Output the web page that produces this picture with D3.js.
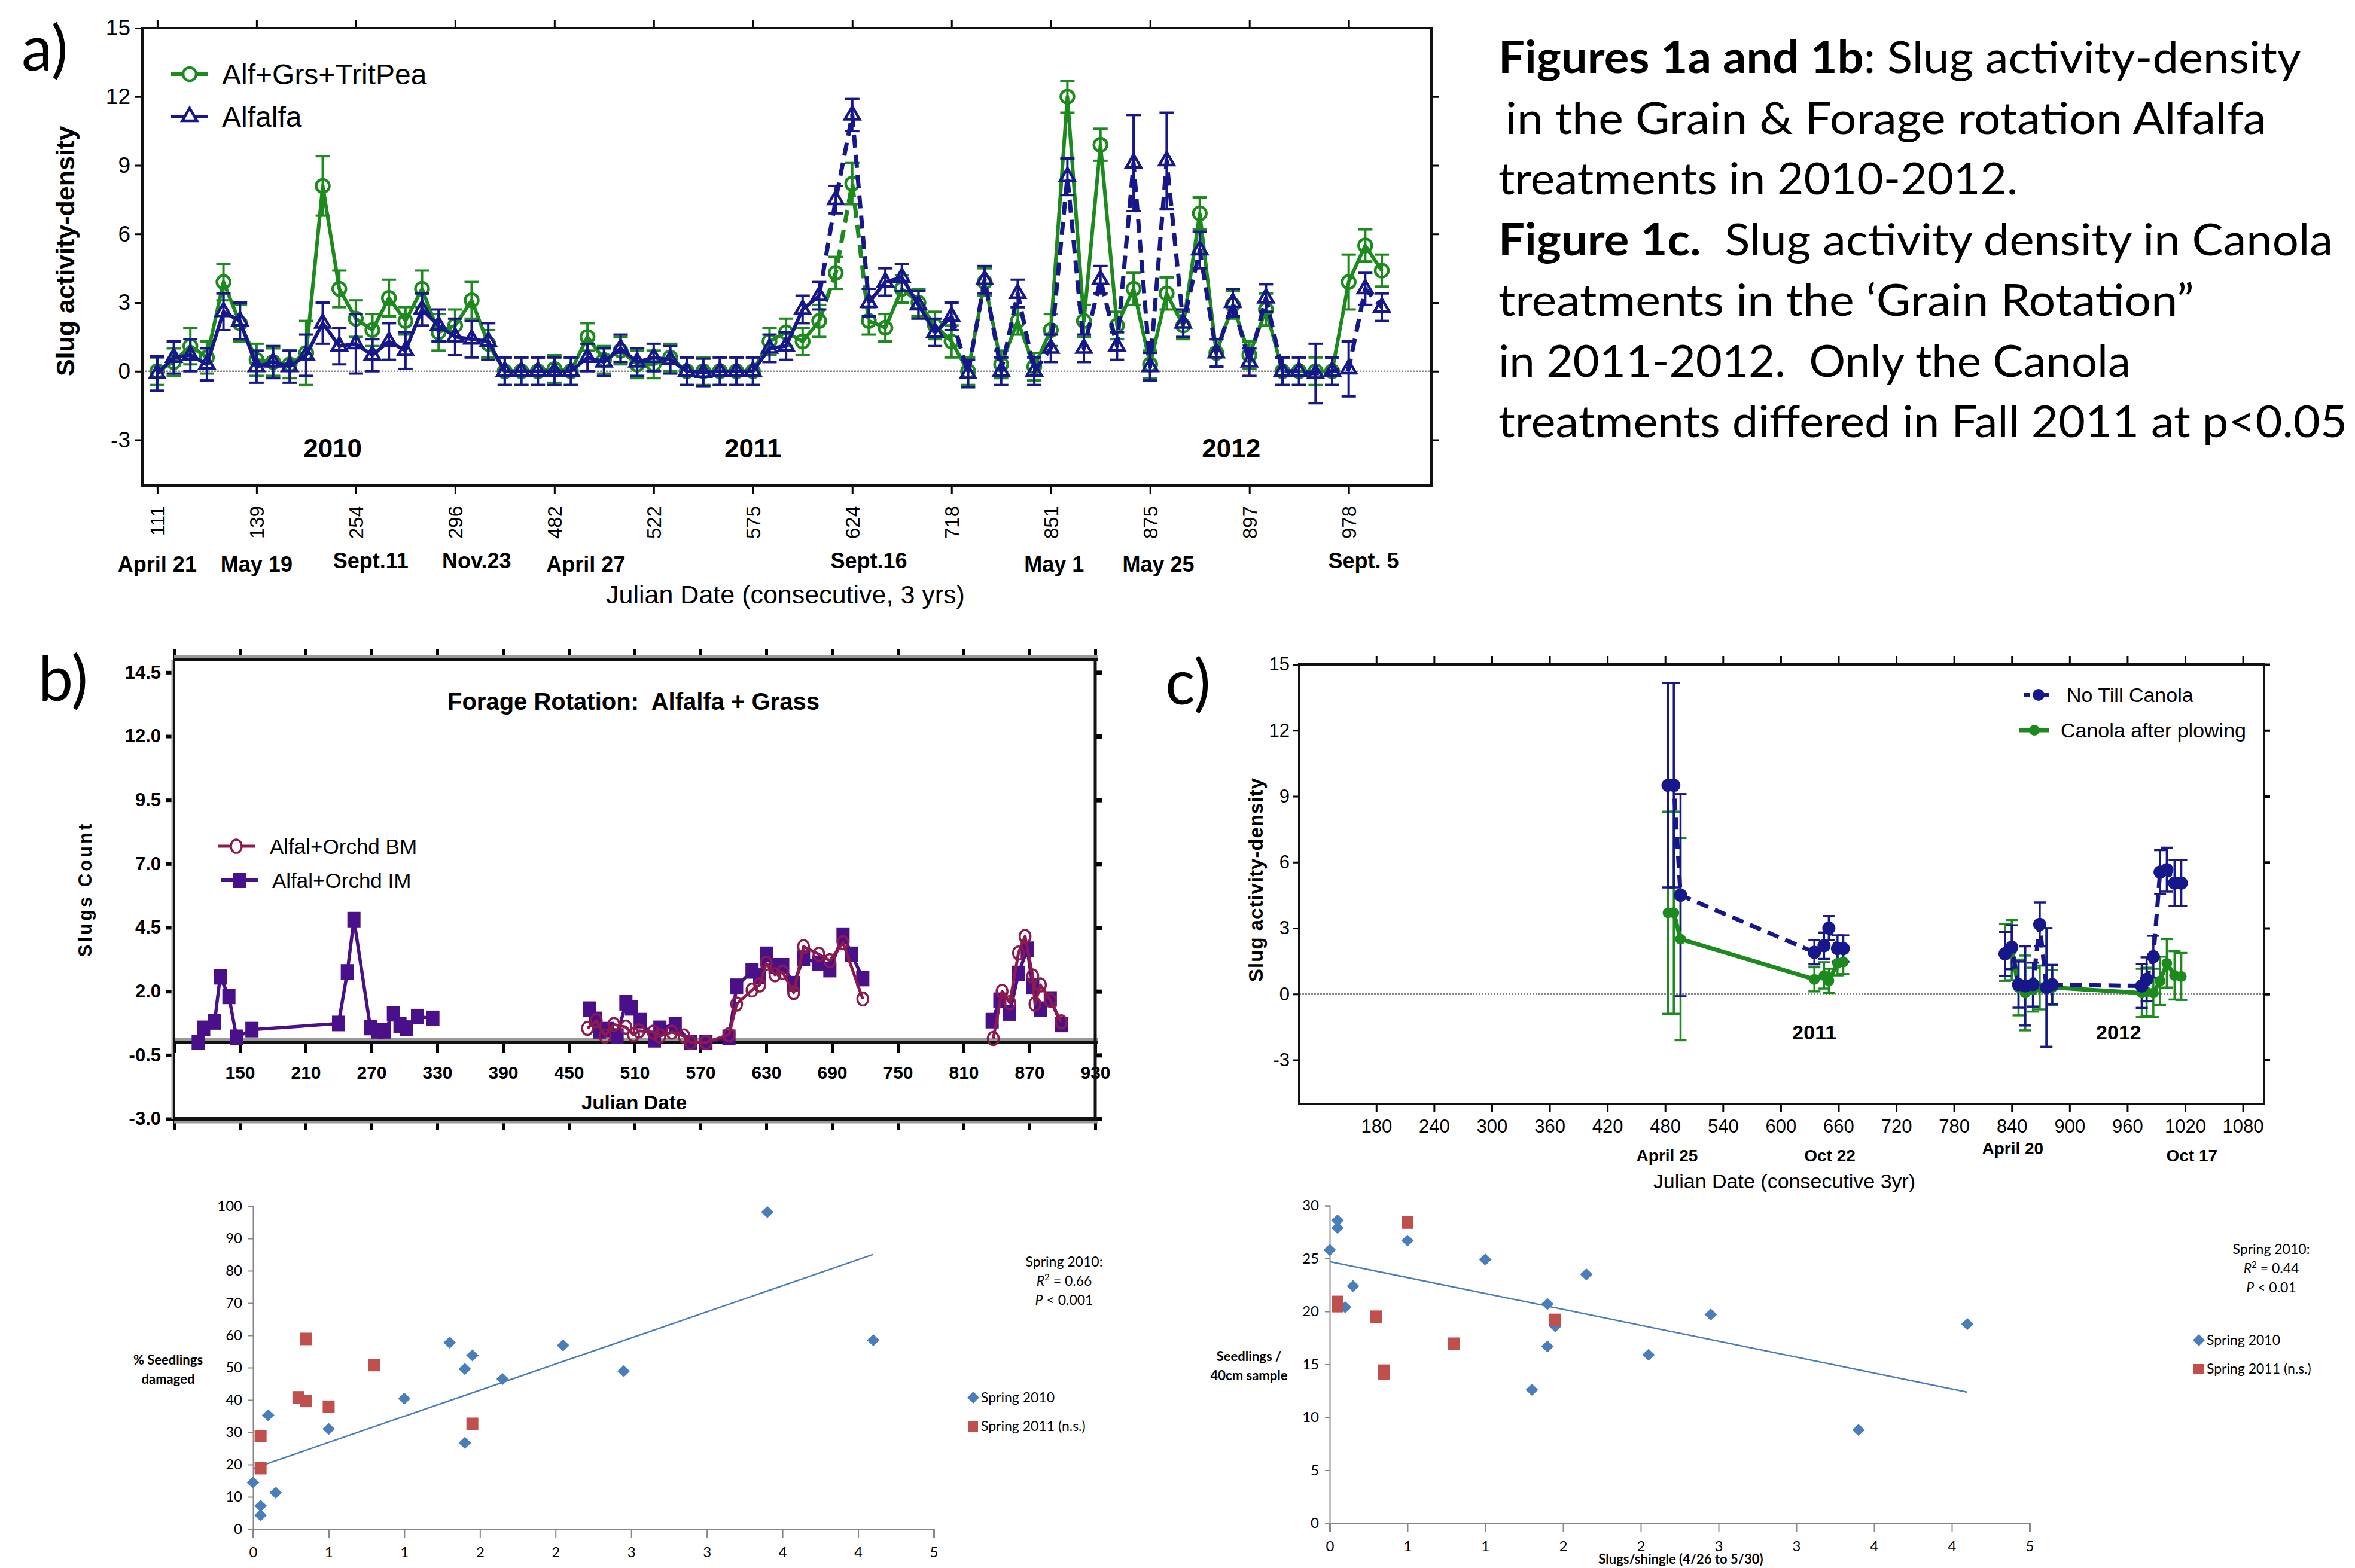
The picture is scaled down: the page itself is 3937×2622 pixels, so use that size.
<!DOCTYPE html>
<html>
<head>
<meta charset="utf-8">
<script src="https://cdn.jsdelivr.net/npm/d3@7"></script>
<style>
  body { margin: 0; background: #fff; }
  svg { display: block; }
  text { white-space: pre; }
</style>
</head>
<body>
<svg id="fig" width="3937" height="2622"></svg>
<script>
// ---------- data: panel a (sample order, 75 samplings 2010-2012) ----------
const aTickIdx = [0, 6, 12, 18, 24, 30, 36, 42, 48, 54, 60, 66, 72];
const aTickLabels = ['111', '139', '254', '296', '482', '522', '575', '624', '718', '851', '875', '897', '978'];
const aDateLabels = ['April 21', 'May 19', 'Sept.11', 'Nov.23', 'April 27', 'Sept.16', 'May 1', 'May 25', 'Sept. 5'];
const aDatePos = [0, 6, 12.9, 19.3, 25.9, 43, 54.2, 60.5, 72.9];
const aYears = ['2010', '2011', '2012'];
const aYearPos = [10.6, 36, 64.9];
const aGreen = [0.0, 0.4, 1.1, 0.6, 3.9, 2.1, 0.5, 0.4, 0.3, 0.8,
  8.1, 3.6, 2.3, 1.8, 3.2, 2.2, 3.6, 1.7, 2.0, 3.1,
  1.2, 0.0, 0.0, 0.0, 0.1, 0.0, 1.5, 0.5, 0.9, 0.3,
  0.3, 0.6, 0.0, 0.0, 0.0, 0.0, 0.0, 1.3, 1.7, 1.3,
  2.2, 4.3, 8.2, 2.2, 1.9, 3.6, 3.0, 2.0, 1.3, 0.0,
  3.9, 0.3, 2.2, 0.2, 1.8, 12.0, 2.2, 9.9, 2.0, 3.6,
  0.3, 3.4, 2.0, 6.9, 0.8, 2.9, 0.7, 2.7, 0.0, 0.0,
  0.0, 0.0, 3.9, 5.5, 4.4];
const aGreenErr = [0.6, 0.6, 0.8, 0.7, 0.8, 0.8, 0.7, 0.6, 0.6, 1.4,
  1.3, 0.8, 0.8, 0.7, 0.8, 0.6, 0.8, 0.8, 0.7, 0.8,
  0.6, 0.6, 0.6, 0.6, 0.6, 0.6, 0.6, 0.6, 0.6, 0.6,
  0.6, 0.6, 0.6, 0.6, 0.6, 0.6, 0.6, 0.6, 0.6, 0.6,
  0.7, 0.7, 0.9, 0.6, 0.6, 0.6, 0.6, 0.6, 0.7, 0.6,
  0.6, 0.6, 0.6, 0.6, 0.7, 0.7, 0.7, 0.7, 0.6, 0.7,
  0.6, 0.7, 0.6, 0.7, 0.6, 0.6, 0.6, 0.7, 0.6, 0.6,
  0.6, 0.6, 1.2, 0.7, 0.7];
const aBlue = [-0.1, 0.6, 0.7, 0.3, 2.6, 2.2, 0.2, 0.4, 0.2, 0.7,
  2.1, 1.1, 1.2, 0.7, 1.3, 0.9, 2.7, 2.0, 1.5, 1.4,
  1.3, 0.0, 0.0, 0.0, 0.0, 0.0, 0.6, 0.4, 1.0, 0.4,
  0.6, 0.5, 0.0, -0.05, 0.0, 0.0, 0.0, 1.0, 1.1, 2.7,
  3.3, 7.5, 11.2, 3.0, 3.9, 4.1, 2.9, 1.7, 2.4, -0.1,
  4.0, 0.0, 3.4, 0.0, 1.0, 8.5, 1.0, 4.0, 1.1, 9.1,
  0.2, 9.2, 2.1, 5.3, 0.8, 3.0, 0.4, 3.2, 0.0, 0.0,
  -0.1, 0.0, 0.1, 3.6, 2.8];
const aBlueErr = [0.75, 0.7, 0.7, 0.7, 0.8, 0.8, 0.7, 0.7, 0.7, 0.9,
  0.9, 0.8, 1.3, 0.7, 0.8, 0.8, 0.7, 0.7, 0.8, 0.8,
  0.8, 0.6, 0.6, 0.6, 0.6, 0.6, 0.6, 0.6, 0.6, 0.6,
  0.6, 0.6, 0.6, 0.6, 0.6, 0.6, 0.6, 0.6, 0.6, 0.6,
  0.6, 0.6, 0.7, 0.6, 0.6, 0.6, 0.6, 0.6, 0.6, 0.6,
  0.6, 0.6, 0.6, 0.6, 0.6, 0.8, 0.6, 0.6, 0.6, 2.1,
  0.6, 2.1, 0.6, 0.8, 0.6, 0.6, 0.6, 0.6, 0.6, 0.6,
  1.3, 0.6, 1.2, 0.7, 0.6];
const aGreenDashed = [[40, 43]];
const aBlueDashed = [[40, 43], [48, 74]];

// ---------- data: panel b (Julian date, consecutive) ----------
const bImDays = [
  [112, 117, 127, 132, 140, 147, 161, 240, 248, 254, 269, 276, 282, 290, 296, 302, 312, 326],
  [469, 474, 478, 485, 494, 502, 507, 515, 528, 533, 547, 561, 575, 596, 603, 617, 624, 630, 638, 645, 655, 664, 678, 688, 700, 708, 718],
  [836, 843, 852, 860, 868, 873, 880, 889, 899]
];
const bImVals = [
  [0.0, 0.55, 0.8, 2.57, 1.8, 0.2, 0.5, 0.74, 2.76, 4.81, 0.58, 0.45, 0.45, 1.12, 0.68, 0.56, 1.01, 0.94],
  [1.3, 0.9, 0.45, 0.5, 0.25, 1.55, 1.35, 0.85, 0.1, 0.55, 0.7, 0.0, 0.0, 0.2, 2.2, 2.8, 2.6, 3.45, 3.0, 3.0, 2.3, 3.3, 3.1, 2.85, 4.2, 3.45, 2.5],
  [0.85, 1.65, 1.15, 2.7, 3.65, 2.2, 1.3, 1.7, 0.7]
];
const bBmDays = [
  [467, 475, 483, 491, 502, 509, 514, 527, 533, 544, 555, 561, 575, 596, 603, 617, 624, 630, 638, 645, 655, 664, 678, 688, 700, 718],
  [837, 845, 852, 860, 866, 873, 875, 880, 889, 899]
];
const bBmVals = [
  [0.55, 0.85, 0.25, 0.7, 0.6, 0.3, 0.45, 0.4, 0.25, 0.4, 0.25, 0.0, 0.0, 0.3, 1.5, 2.05, 2.25, 3.1, 2.65, 2.75, 1.95, 3.75, 3.45, 3.2, 3.9, 1.7],
  [0.15, 2.0, 1.55, 3.5, 4.15, 2.6, 1.5, 2.25, 1.65, 0.8]
];
const bYTicks = [14.5, 12.0, 9.5, 7.0, 4.5, 2.0, -0.5, -3.0];

// ---------- data: panel c ----------
const cDays = [483, 489, 496, 635, 645, 650, 659, 665, 833, 840, 847, 854, 862, 869, 876, 882, 975, 980, 987, 994, 1001, 1009, 1016];
const cNoTill = [9.5, 9.5, 4.5, 1.9, 2.2, 3.0, 2.07, 2.07, 1.83, 2.13, 0.43, 0.37, 0.43, 3.17, 0.3, 0.43, 0.37, 0.67, 1.7, 5.55, 5.66, 5.05, 5.05];
const cNoTillErr = [4.65, 4.65, 4.6, 0.55, 0.6, 0.55, 0.6, 0.6, 1.0, 1.0, 1.05, 1.8, 1.0, 1.0, 2.7, 0.9, 1.0, 1.0, 0.95, 1.0, 1.0, 1.05, 1.05];
const cPlow = [3.7, 3.7, 2.5, 0.67, 0.85, 0.6, 1.4, 1.46, 1.9, 2.0, 0.3, 0.05, 0.2, 0.3, 0.3, 0.3, 0.05, 0.1, 0.05, 0.6, 1.4, 0.85, 0.8];
const cPlowErr = [4.6, 4.6, 4.6, 0.55, 0.6, 0.55, 0.55, 0.55, 1.3, 1.37, 1.27, 1.7, 1.0, 1.0, 2.7, 0.8, 1.1, 1.1, 1.1, 1.1, 1.1, 1.1, 1.07];
const cDateLabels = ['April 25', 'Oct 22', 'April 20', 'Oct 17'];
const cDatePos = [482, 651, 841, 1027];
const cYears = ['2011', '2012'];
const cYearPos = [635, 951];

// ---------- data: seedling scatter plots ----------
const sX10 = [3.40, 4.10, 1.30, 2.05, 1.45, 1.40, 2.45, 1.65, 1.00, 0.10, 0.50, 1.40, 0.00, 0.15, 0.05, 0.05];
const sDamage10 = [98.2, 58.5, 57.8, 56.9, 53.8, 49.6, 48.9, 46.5, 40.4, 35.3, 31.0, 26.7, 14.4, 11.3, 7.2, 4.3];
const sSeedl10 = [8.8, 18.8, 12.6, 15.9, 18.6, 20.7, 19.7, 23.5, 24.9, 20.4, 26.7, 16.7, 25.8, 22.4, 28.6, 27.9];
const sX11 = [0.35, 0.80, 0.30, 0.35, 0.50, 1.45, 0.05, 0.05];
const sDamage11 = [58.9, 50.8, 40.8, 39.7, 37.9, 32.6, 28.8, 18.9];
const sSeedl11 = [14.4, 16.95, 19.5, 14.1, 28.4, 19.2, 20.9, 20.5];
const sXTicks = [0, 0.5, 1, 1.5, 2, 2.5, 3, 3.5, 4, 4.5];

// ---------- caption ----------
const captionLines = [
  [['Figures 1a and 1b', true], [': Slug activity-density', false]],
  [['in the Grain & Forage rotation Alfalfa', false]],
  [['treatments in 2010-2012.', false]],
  [['Figure 1c.', true], ['  Slug activity density in Canola', false]],
  [['treatments in the \u2018Grain Rotation\u201d', false]],
  [['in 2011-2012.  Only the Canola', false]],
  [['treatments differed in Fall 2011 at p<0.05', false]]
];
const captionWidths = [1342, 1272, 868, 1395, 1163, 1057, 1419];

// ---------- styles ----------
const ARIAL = '"Liberation Sans", Arial, sans-serif';
const CALIBRI = 'Lato, "Open Sans", sans-serif';
const GREEN = '#1c8a1c', NAVY = '#17178c', MAROON = '#8c1a4c', PURPLE = '#4a1089';
const XL_BLUE = '#4a7ebb', XL_RED = '#c0504d';
const plain = d => String(d);  // hyphen minus like the original, no thousands comma

const svg = d3.select('#fig');
svg.append('rect').attr('width', 3937).attr('height', 2622).attr('fill', '#fff');

function segRuns(n, dashedRanges) {
  const segDash = d3.range(n - 1).map(i => dashedRanges.some(([a, b]) => i >= a && i < b));
  const out = [];
  let s = 0;
  for (let i = 1; i <= segDash.length; i++) {
    if (i === segDash.length || segDash[i] !== segDash[s]) {
      out.push({ from: s, to: i, dashed: segDash[s] });
      s = i;
    }
  }
  return out;
}

function errorBars(g, xs, ys, errs, x, y, color, cap, sw) {
  const eg = g.append('g').attr('stroke', color).attr('stroke-width', sw).attr('fill', 'none');
  xs.forEach((xv, i) => {
    const px = x(xv), lo = y(ys[i] - errs[i]), hi = y(ys[i] + errs[i]);
    eg.append('line').attr('x1', px).attr('x2', px).attr('y1', lo).attr('y2', hi);
    eg.append('line').attr('x1', px - cap / 2).attr('x2', px + cap / 2).attr('y1', lo).attr('y2', lo);
    eg.append('line').attr('x1', px - cap / 2).attr('x2', px + cap / 2).attr('y1', hi).attr('y2', hi);
  });
}

function styleAxis(sel, opts) {
  sel.select('.domain').remove();
  sel.selectAll('.tick line').attr('stroke', opts.tickColor || '#000').attr('stroke-width', opts.tickWidth || 3);
  sel.selectAll('.tick text').attr('font-family', opts.font || ARIAL)
    .attr('font-size', opts.size || 30).attr('font-weight', opts.weight || 'normal').attr('fill', '#000');
}

// ================= PANEL A =================
{
  const g = svg.append('g');
  const x = d3.scaleLinear().domain([-0.9, 77]).range([238, 2393]);
  const y = d3.scaleLinear().domain([-5, 15]).range([812, 47]);
  const idx = d3.range(aGreen.length);

  // zero reference line
  g.append('line').attr('x1', x(-0.9)).attr('x2', x(77)).attr('y1', y(0)).attr('y2', y(0))
    .attr('stroke', '#8a8a8a').attr('stroke-width', 2.5).attr('stroke-dasharray', '3,2');

  // axes
  const bottom = g.append('g').attr('transform', `translate(0,${y(-5)})`)
    .call(d3.axisBottom(x).tickValues(aTickIdx).tickSize(14).tickFormat(d => aTickLabels[aTickIdx.indexOf(d)]));
  styleAxis(bottom, { size: 33 });
  bottom.selectAll('.tick text').attr('transform', 'rotate(-90)').attr('x', -34).attr('y', 0)
    .attr('dy', '0.35em').attr('text-anchor', 'end');
  const top = g.append('g').attr('transform', `translate(0,${y(15)})`)
    .call(d3.axisTop(x).tickValues(aTickIdx).tickSize(14).tickFormat(''));
  styleAxis(top, {});
  const left = g.append('g').attr('transform', `translate(${x(-0.9)},0)`)
    .call(d3.axisLeft(y).tickValues([-3, 0, 3, 6, 9, 12, 15]).tickSize(12).tickPadding(8).tickFormat(plain));
  styleAxis(left, { size: 37 });
  const right = g.append('g').attr('transform', `translate(${x(77)},0)`)
    .call(d3.axisRight(y).tickValues([-3, 0, 3, 6, 9, 12]).tickSize(12).tickFormat(''));
  styleAxis(right, {});
  g.append('rect').attr('x', x(-0.9)).attr('y', y(15)).attr('width', x(77) - x(-0.9)).attr('height', y(-5) - y(15))
    .attr('fill', 'none').attr('stroke', '#111').attr('stroke-width', 4);

  // series
  const series = [
    { vals: aGreen, errs: aGreenErr, color: GREEN, dashed: aGreenDashed, marker: 'circle' },
    { vals: aBlue, errs: aBlueErr, color: NAVY, dashed: aBlueDashed, marker: 'triangle' }
  ];
  series.forEach(s => {
    errorBars(g, idx, s.vals, s.errs, x, y, s.color, 24, 4);
    const line = d3.line().x(i => x(i)).y(i => y(s.vals[i]));
    segRuns(idx.length, s.dashed).forEach(r => {
      g.append('path').attr('d', line(d3.range(r.from, r.to + 1)))
        .attr('fill', 'none').attr('stroke', s.color).attr('stroke-width', r.dashed ? 7 : 6)
        .attr('stroke-dasharray', r.dashed ? '22,12' : null).attr('stroke-linejoin', 'round');
    });
    idx.forEach(i => {
      if (s.marker === 'circle') {
        g.append('circle').attr('cx', x(i)).attr('cy', y(s.vals[i])).attr('r', 11)
          .attr('fill', 'none').attr('stroke', s.color).attr('stroke-width', 4.5);
      } else {
        g.append('path').attr('d', d3.symbol(d3.symbolTriangle, 260)())
          .attr('transform', `translate(${x(i)},${y(s.vals[i])})`)
          .attr('fill', 'none').attr('stroke', s.color).attr('stroke-width', 4.5);
      }
    });
  });

  // legend
  [[GREEN, 'Alf+Grs+TritPea', 'circle', 124], [NAVY, 'Alfalfa', 'triangle', 195]].forEach(([c, t, m, ly]) => {
    g.append('line').attr('x1', 286).attr('x2', 348).attr('y1', ly).attr('y2', ly).attr('stroke', c).attr('stroke-width', 6);
    if (m === 'circle') g.append('circle').attr('cx', 317).attr('cy', ly).attr('r', 11).attr('fill', '#fff').attr('stroke', c).attr('stroke-width', 4.5);
    else g.append('path').attr('d', d3.symbol(d3.symbolTriangle, 260)()).attr('transform', `translate(317,${ly})`)
      .attr('fill', '#fff').attr('stroke', c).attr('stroke-width', 4.5);
    g.append('text').attr('x', 371).attr('y', ly).attr('dy', '0.36em').attr('font-family', ARIAL)
      .attr('font-size', 48).text(t);
  });

  // year labels inside plot
  aYears.forEach((t, i) => g.append('text').attr('x', x(aYearPos[i])).attr('y', y(-3.78))
    .attr('text-anchor', 'middle').attr('font-family', ARIAL).attr('font-weight', 'bold').attr('font-size', 44).text(t));
  // date labels
  aDateLabels.forEach((t, i) => g.append('text').attr('x', x(aDatePos[i])).attr('y', (i === 2 || i === 3 || i === 5 || i === 8) ? 950 : 956)
    .attr('text-anchor', 'middle').attr('font-family', ARIAL).attr('font-weight', 'bold').attr('font-size', 36).text(t));
  g.append('text').attr('x', 1313).attr('y', 1009).attr('text-anchor', 'middle').attr('font-family', ARIAL)
    .attr('font-size', 43).text('Julian Date (consecutive, 3 yrs)');
  g.append('text').attr('transform', 'translate(124,420) rotate(-90)').attr('text-anchor', 'middle')
    .attr('font-family', ARIAL).attr('font-weight', 'bold').attr('font-size', 43).text('Slug activity-density');
  g.append('text').attr('x', 36).attr('y', 118).attr('font-family', CALIBRI).attr('font-size', 104).text('a)');
}

// ================= PANEL B =================
{
  const g = svg.append('g');
  const x = d3.scaleLinear().domain([90, 930]).range([291, 1831]);
  const y = d3.scaleLinear().domain([-3, 15]).range([1871, 1103]);
  const xt = d3.range(90, 931, 60);

  // tick marks
  const ax0 = g.append('g').attr('transform', `translate(0,${y(0)})`)
    .call(d3.axisBottom(x).tickValues(xt).tickSize(18).tickPadding(22).tickFormat(d => d === 90 ? '' : d));
  styleAxis(ax0, { size: 30, weight: 'bold', tickWidth: 5 });
  const axT = g.append('g').attr('transform', `translate(0,${y(15)})`)
    .call(d3.axisTop(x).tickValues(xt).tickSize(18).tickFormat(''));
  styleAxis(axT, { tickWidth: 5 });
  const axB = g.append('g').attr('transform', `translate(0,${y(-3)})`)
    .call(d3.axisBottom(x).tickValues(xt).tickSize(18).tickFormat(''));
  styleAxis(axB, { tickWidth: 5 });
  const axL = g.append('g').attr('transform', `translate(${x(90)},0)`)
    .call(d3.axisLeft(y).tickValues(bYTicks).tickSize(14).tickPadding(8).tickFormat(d => d.toFixed(1)));
  styleAxis(axL, { size: 31, weight: 'bold', tickWidth: 6 });
  const axR = g.append('g').attr('transform', `translate(${x(930)},0)`)
    .call(d3.axisRight(y).tickValues(bYTicks).tickSize(12).tickFormat(''));
  styleAxis(axR, { tickWidth: 7 });

  // frame: double lines top/bottom, axis line at zero
  [[y(15), -1], [y(-3), 1], [y(0), -1]].forEach(([py, side]) => {
    g.append('line').attr('x1', x(90)).attr('x2', x(930) + 4).attr('y1', py + side * 5).attr('y2', py + side * 5)
      .attr('stroke', '#9a9a9a').attr('stroke-width', 5);
    g.append('line').attr('x1', x(90)).attr('x2', x(930) + 4).attr('y1', py).attr('y2', py)
      .attr('stroke', '#111').attr('stroke-width', 6);
  });
  g.append('line').attr('x1', x(90) - 3).attr('x2', x(90) - 3).attr('y1', y(15)).attr('y2', y(-3)).attr('stroke', '#aaa').attr('stroke-width', 3);
  g.append('line').attr('x1', x(90)).attr('x2', x(90)).attr('y1', y(15)).attr('y2', y(-3)).attr('stroke', '#111').attr('stroke-width', 4);
  g.append('line').attr('x1', x(930)).attr('x2', x(930)).attr('y1', y(15) - 3).attr('y2', y(-3) + 3).attr('stroke', '#111').attr('stroke-width', 5);

  const line = d3.line().x(d => x(d[0])).y(d => y(d[1]));
  // IM series (filled squares)
  bImDays.forEach((days, k) => {
    const pts = days.map((d, i) => [d, bImVals[k][i]]);
    g.append('path').attr('d', line(pts)).attr('fill', 'none').attr('stroke', PURPLE).attr('stroke-width', 5.5).attr('stroke-linejoin', 'round');
    pts.forEach(p => g.append('rect').attr('x', x(p[0]) - 11).attr('y', y(p[1]) - 13).attr('width', 22).attr('height', 26).attr('fill', PURPLE));
  });
  // BM series (open circles)
  bBmDays.forEach((days, k) => {
    const pts = days.map((d, i) => [d, bBmVals[k][i]]);
    g.append('path').attr('d', line(pts)).attr('fill', 'none').attr('stroke', MAROON).attr('stroke-width', 5).attr('stroke-linejoin', 'round');
    pts.forEach(p => g.append('ellipse').attr('cx', x(p[0])).attr('cy', y(p[1])).attr('rx', 9).attr('ry', 11)
      .attr('fill', 'none').attr('stroke', MAROON).attr('stroke-width', 3.5));
  });

  // legend
  g.append('line').attr('x1', 364).attr('x2', 427).attr('y1', 1415).attr('y2', 1415).attr('stroke', MAROON).attr('stroke-width', 5);
  g.append('ellipse').attr('cx', 395).attr('cy', 1415).attr('rx', 9).attr('ry', 11).attr('fill', '#fff').attr('stroke', MAROON).attr('stroke-width', 3.5);
  g.append('text').attr('x', 451).attr('y', 1415).attr('dy', '0.36em').attr('font-family', ARIAL).attr('font-size', 35).text('Alfal+Orchd BM');
  g.append('line').attr('x1', 369).attr('x2', 432).attr('y1', 1472).attr('y2', 1472).attr('stroke', PURPLE).attr('stroke-width', 6);
  g.append('rect').attr('x', 389).attr('y', 1459).attr('width', 22).attr('height', 26).attr('fill', PURPLE);
  g.append('text').attr('x', 455).attr('y', 1472).attr('dy', '0.36em').attr('font-family', ARIAL).attr('font-size', 35).text('Alfal+Orchd IM');

  g.append('text').attr('x', 1059).attr('y', 1173).attr('dy', '0.36em').attr('text-anchor', 'middle').attr('font-family', ARIAL)
    .attr('font-weight', 'bold').attr('font-size', 40).text('Forage Rotation:  Alfalfa + Grass');
  g.append('text').attr('x', 1060).attr('y', 1843).attr('dy', '0.36em').attr('text-anchor', 'middle').attr('font-family', ARIAL)
    .attr('font-weight', 'bold').attr('font-size', 33).text('Julian Date');
  g.append('text').attr('transform', 'translate(153,1487) rotate(-90)').attr('text-anchor', 'middle').attr('font-family', ARIAL)
    .attr('font-weight', 'bold').attr('font-size', 31).attr('letter-spacing', 4).text('Slugs Count');
  g.append('text').attr('x', 64).attr('y', 1172).attr('font-family', CALIBRI).attr('font-size', 104).text('b)');
}

// ================= PANEL C =================
{
  const g = svg.append('g');
  const x = d3.scaleLinear().domain([100, 1102]).range([2172, 3785]);
  const y = d3.scaleLinear().domain([-5, 15]).range([1846, 1111]);
  const xt = d3.range(180, 1081, 60);

  g.append('line').attr('x1', x(100)).attr('x2', x(1102)).attr('y1', y(0)).attr('y2', y(0))
    .attr('stroke', '#8a8a8a').attr('stroke-width', 2.5).attr('stroke-dasharray', '3,2');
  const axB = g.append('g').attr('transform', `translate(0,${y(-5)})`)
    .call(d3.axisBottom(x).tickValues(xt).tickSize(14).tickPadding(12).tickFormat(plain));
  styleAxis(axB, { size: 31 });
  const axT = g.append('g').attr('transform', `translate(0,${y(15)})`)
    .call(d3.axisTop(x).tickValues(xt).tickSize(14).tickFormat(''));
  styleAxis(axT, {});
  const axL = g.append('g').attr('transform', `translate(${x(100)},0)`)
    .call(d3.axisLeft(y).tickValues([-3, 0, 3, 6, 9, 12, 15]).tickSize(10).tickPadding(6).tickFormat(plain));
  styleAxis(axL, { size: 31 });
  const axR = g.append('g').attr('transform', `translate(${x(1102)},0)`)
    .call(d3.axisRight(y).tickValues([-3, 0, 3, 6, 9, 12, 15]).tickSize(10).tickFormat(''));
  styleAxis(axR, { tickWidth: 4 });
  g.append('rect').attr('x', x(100)).attr('y', y(15)).attr('width', x(1102) - x(100)).attr('height', y(-5) - y(15))
    .attr('fill', 'none').attr('stroke', '#111').attr('stroke-width', 4);

  // split into years at the winter gap in sampling dates
  const groups = [];
  cDays.forEach((d, i) => {
    if (i === 0 || d - cDays[i - 1] > 150) groups.push([]);
    groups[groups.length - 1].push(i);
  });
  const series = [
    { vals: cPlow, errs: cPlowErr, color: GREEN, dash: null, r: 9, w: 7 },
    { vals: cNoTill, errs: cNoTillErr, color: NAVY, dash: '20,12', r: 11, w: 7 }
  ];
  series.forEach(s => errorBars(g, cDays, s.vals, s.errs, x, y, s.color, 20, 3.5));
  series.forEach(s => {
    const line = d3.line().x(i => x(cDays[i])).y(i => y(s.vals[i]));
    groups.forEach(gr => g.append('path').attr('d', line(gr)).attr('fill', 'none').attr('stroke', s.color)
      .attr('stroke-width', s.w).attr('stroke-dasharray', s.dash));
  });
  series.forEach(s => cDays.forEach((d, i) => g.append('circle').attr('cx', x(d)).attr('cy', y(s.vals[i])).attr('r', s.r).attr('fill', s.color)));

  // legend
  g.append('line').attr('x1', 3384).attr('x2', 3432).attr('y1', 1162).attr('y2', 1162).attr('stroke', NAVY).attr('stroke-width', 6).attr('stroke-dasharray', '10,6');
  g.append('circle').attr('cx', 3408).attr('cy', 1162).attr('r', 10).attr('fill', NAVY);
  g.append('text').attr('x', 3455).attr('y', 1162).attr('dy', '0.36em').attr('font-family', ARIAL).attr('font-size', 34).text('No Till Canola');
  g.append('line').attr('x1', 3376).attr('x2', 3426).attr('y1', 1221).attr('y2', 1221).attr('stroke', GREEN).attr('stroke-width', 7);
  g.append('circle').attr('cx', 3401).attr('cy', 1221).attr('r', 9).attr('fill', GREEN);
  g.append('text').attr('x', 3445).attr('y', 1221).attr('dy', '0.36em').attr('font-family', ARIAL).attr('font-size', 34).text('Canola after plowing');

  cYears.forEach((t, i) => g.append('text').attr('x', x(cYearPos[i])).attr('y', y(-2.05)).attr('text-anchor', 'middle')
    .attr('font-family', ARIAL).attr('font-weight', 'bold').attr('font-size', 34).text(t));
  cDateLabels.forEach((t, i) => g.append('text').attr('x', x(cDatePos[i])).attr('y', i === 2 ? 1930 : 1942).attr('text-anchor', 'middle')
    .attr('font-family', ARIAL).attr('font-weight', 'bold').attr('font-size', 28).text(t));
  g.append('text').attr('x', 2983).attr('y', 1987).attr('text-anchor', 'middle').attr('font-family', ARIAL)
    .attr('font-size', 34).text('Julian Date (consecutive 3yr)');
  g.append('text').attr('transform', 'translate(2111,1471) rotate(-90)').attr('text-anchor', 'middle').attr('font-family', ARIAL)
    .attr('font-weight', 'bold').attr('font-size', 33).attr('letter-spacing', 1).text('Slug activity-density');
  g.append('text').attr('x', 1948).attr('y', 1178).attr('font-family', CALIBRI).attr('font-size', 104).text('c)');
}

// ================= SCATTER PLOTS =================
function scatter(opts) {
  const g = svg.append('g');
  const x = d3.scaleLinear().domain([0, 4.5]).range(opts.xr);
  const y = d3.scaleLinear().domain(opts.yd).range(opts.yr);
  const ax = g.append('g').attr('transform', `translate(0,${opts.yr[0]})`)
    .call(d3.axisBottom(x).tickValues(sXTicks).tickSize(14).tickPadding(16).tickFormat(d => Math.round(d)));
  ax.select('.domain').attr('stroke', '#868686').attr('stroke-width', 3);
  ax.selectAll('.tick line').attr('stroke', '#868686').attr('stroke-width', 2);
  ax.selectAll('.tick text').attr('font-family', CALIBRI).attr('font-size', 24).attr('fill', '#000');
  const ay = g.append('g').attr('transform', `translate(${opts.xr[0]},0)`)
    .call(d3.axisLeft(y).tickValues(opts.yTicks).tickSize(8).tickPadding(10));
  ay.select('.domain').attr('stroke', '#868686').attr('stroke-width', 2);
  ay.selectAll('.tick line').attr('stroke', '#868686').attr('stroke-width', 2);
  ay.selectAll('.tick text').attr('font-family', CALIBRI).attr('font-size', 24).attr('fill', '#000');

  // least-squares trend line for Spring 2010
  const mx = d3.mean(sX10), my = d3.mean(opts.y10);
  const slope = d3.sum(sX10, (v, i) => (v - mx) * (opts.y10[i] - my)) / d3.sum(sX10, v => (v - mx) ** 2);
  const b0 = my - slope * mx, xmax = d3.max(sX10);
  g.append('line').attr('x1', x(0)).attr('y1', y(b0)).attr('x2', x(xmax)).attr('y2', y(b0 + slope * xmax))
    .attr('stroke', XL_BLUE).attr('stroke-width', 2.5);

  sX10.forEach((v, i) => g.append('path').attr('d', d3.symbol(d3.symbolSquare, 200)())
    .attr('transform', `translate(${x(v)},${y(opts.y10[i])}) scale(1.05,1) rotate(45)`).attr('fill', XL_BLUE));
  sX11.forEach((v, i) => g.append('rect').attr('x', x(v) - 10).attr('y', y(opts.y11[i]) - 10.5)
    .attr('width', 20).attr('height', 21).attr('fill', XL_RED));

  // annotation
  const ann = g.append('text').attr('text-anchor', 'middle').attr('font-family', CALIBRI).attr('font-size', 23);
  ann.append('tspan').attr('x', opts.ann[0]).attr('y', opts.ann[1]).text('Spring 2010:');
  const r2 = ann.append('tspan').attr('x', opts.ann[0]).attr('y', opts.ann[1] + 32);
  r2.append('tspan').attr('font-style', 'italic').text('R');
  r2.append('tspan').attr('font-size', 15).attr('dy', -9).text('2');
  r2.append('tspan').attr('dy', 9).text(' = ' + opts.r2);
  const pl = ann.append('tspan').attr('x', opts.ann[0]).attr('y', opts.ann[1] + 64);
  pl.append('tspan').attr('font-style', 'italic').text('P');
  pl.append('tspan').text(' < ' + opts.p);

  // legend
  const [lx, ly] = opts.leg;
  g.append('path').attr('d', d3.symbol(d3.symbolSquare, 200)()).attr('transform', `translate(${lx},${ly}) rotate(45)`).attr('fill', XL_BLUE);
  g.append('text').attr('x', lx + 13).attr('y', ly).attr('dy', '0.35em').attr('font-family', CALIBRI).attr('font-size', 23).text('Spring 2010');
  g.append('rect').attr('x', lx - 9).attr('y', ly + 40).attr('width', 17).attr('height', 17).attr('fill', XL_RED);
  g.append('text').attr('x', lx + 13).attr('y', ly + 48).attr('dy', '0.35em').attr('font-family', CALIBRI).attr('font-size', 23).text('Spring 2011 (n.s.)');

  const yl = g.append('text').attr('text-anchor', 'middle').attr('font-family', CALIBRI).attr('font-weight', 'bold').attr('font-size', 22);
  opts.yTitle.forEach((t, i) => yl.append('tspan').attr('x', opts.yTitlePos[0]).attr('y', opts.yTitlePos[1] + i * 32).text(t));
  if (opts.xTitle) g.append('text').attr('x', opts.xTitlePos[0]).attr('y', opts.xTitlePos[1]).attr('text-anchor', 'middle')
    .attr('font-family', CALIBRI).attr('font-weight', 'bold').attr('font-size', 22).text(opts.xTitle);
}

scatter({
  xr: [423, 1561], yd: [0, 100], yr: [2557, 2017], yTicks: d3.range(0, 101, 10),
  y10: sDamage10, y11: sDamage11, r2: '0.66', p: '0.001',
  ann: [1779, 2118], leg: [1627, 2337],
  yTitle: ['% Seedlings', 'damaged'], yTitlePos: [281, 2282]
});
scatter({
  xr: [2223, 3393], yd: [0, 30], yr: [2547, 2016], yTicks: d3.range(0, 31, 5),
  y10: sSeedl10, y11: sSeedl11, r2: '0.44', p: '0.01',
  ann: [3797, 2097], leg: [3676, 2241],
  yTitle: ['Seedlings /', '40cm sample'], yTitlePos: [2088, 2276],
  xTitle: 'Slugs/shingle (4/26 to 5/30)', xTitlePos: [2810, 2615]
});

// ================= CAPTION =================
captionLines.forEach((parts, i) => {
  const t = svg.append('text').attr('x', i === 1 ? 2517 : 2505).attr('y', 122 + i * 101.5)
    .attr('font-family', CALIBRI).attr('font-size', 74)
    .attr('textLength', captionWidths[i]).attr('lengthAdjust', 'spacingAndGlyphs');
  parts.forEach(([s, bold]) => t.append('tspan').attr('font-weight', bold ? 'bold' : 'normal').text(s));
});
</script>
</body>
</html>
